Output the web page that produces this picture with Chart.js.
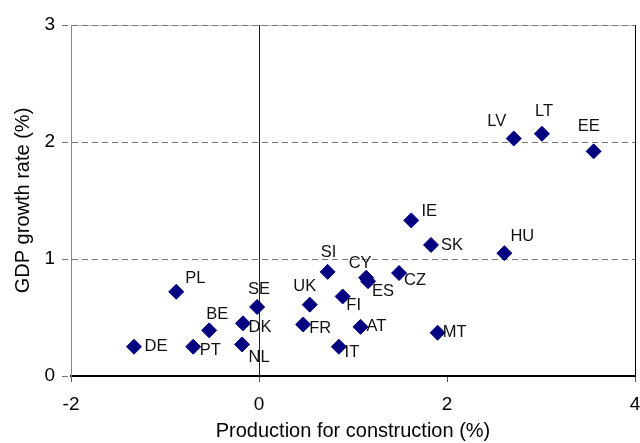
<!DOCTYPE html>
<html>
<head>
<meta charset="utf-8">
<script src="https://cdn.jsdelivr.net/npm/chart.js@4/dist/chart.umd.min.js"></script>
<style>
  html, body { margin: 0; padding: 0; background: #fff; overflow: hidden; }
  canvas { display: block; }
</style>
</head>
<body>
<canvas id="chart" width="640" height="443"></canvas>
<script>
const countries = ['DE', 'PL', 'BE', 'PT', 'DK', 'NL', 'SE', 'UK', 'FR', 'SI', 'FI', 'IT',
                   'CY', 'ES', 'CZ', 'AT', 'MT', 'IE', 'SK', 'HU', 'LV', 'LT', 'EE'];
const construction = [-1.33, -0.88, -0.53, -0.70, -0.17, -0.18, -0.02, 0.54, 0.47, 0.73, 0.89, 0.85,
                      1.14, 1.16, 1.49, 1.08, 1.90, 1.62, 1.83, 2.61, 2.71, 3.01, 3.56];
const gdpGrowth = [0.25, 0.72, 0.39, 0.25, 0.45, 0.27, 0.59, 0.61, 0.44, 0.89, 0.68, 0.25,
                   0.84, 0.81, 0.88, 0.42, 0.37, 1.33, 1.12, 1.05, 2.03, 2.07, 1.92];
const xTicks = [-2, 0, 2, 4];
const yTicks = [0, 1, 2, 3];

// where each country label sits relative to its marker (px)
const labelOffsets = {
    DE: [22, 0], PL: [19, -13], BE: [8, -16], PT: [17, 4], DK: [17, 4], NL: [17, 13],
    SE: [2, -18], UK: [-5, -18], FR: [17, 4], SI: [1, -19], FI: [11, 9], IT: [13, 6],
    CY: [-6, -14], ES: [15, 10], CZ: [16, 7], AT: [16, 0], MT: [17, 0], IE: [18, -9],
    SK: [21, 0], HU: [18, -17], LV: [-17, -17], LT: [2, -22], EE: [-5, -25]
};

const FONT = "'Liberation Sans', Arial, sans-serif";

const pointLabels = {
    id: 'pointLabels',
    afterDatasetsDraw(chart) {
        const ctx = chart.ctx;
        const meta = chart.getDatasetMeta(0);
        ctx.save();
        ctx.font = '16.5px ' + FONT;
        ctx.fillStyle = '#111';
        ctx.textAlign = 'center';
        ctx.textBaseline = 'middle';
        meta.data.forEach((pt, i) => {
            const off = labelOffsets[countries[i]] || [15, 0];
            ctx.fillText(countries[i], pt.x + off[0], pt.y + off[1]);
        });
        ctx.restore();
    }
};

const frame = {
    id: 'frame',
    beforeDraw(chart) {
        // faint solid line under the dashed top gridline
        const { ctx, chartArea } = chart;
        ctx.save();
        ctx.strokeStyle = '#bbb';
        ctx.lineWidth = 1;
        ctx.beginPath();
        ctx.moveTo(chartArea.left, chartArea.top + 0.5);
        ctx.lineTo(chartArea.right, chartArea.top + 0.5);
        ctx.stroke();
        ctx.restore();
    },
    beforeDatasetsDraw(chart) {
        const { ctx, chartArea } = chart;
        ctx.save();
        ctx.lineWidth = 1;
        ctx.strokeStyle = '#000';
        ctx.beginPath();
        ctx.moveTo(chartArea.right + 0.5, chartArea.top);
        ctx.lineTo(chartArea.right + 0.5, chartArea.bottom);
        ctx.stroke();
        ctx.restore();
    }
};

new Chart(document.getElementById('chart'), {
    type: 'scatter',
    data: {
        datasets: [{
            data: countries.map((c, i) => ({ x: construction[i], y: gdpGrowth[i] })),
            backgroundColor: '#000080',
            borderColor: '#000080',
            pointStyle: 'rectRot',
            pointRadius: 7.5,
            pointHoverRadius: 7.5
        }]
    },
    options: {
        responsive: false,
        animation: false,
        layout: { autoPadding: false, padding: { top: 25, right: 5, left: 0, bottom: 0 } },
        plugins: { legend: { display: false }, tooltip: { enabled: false } },
        scales: {
            x: {
                type: 'linear',
                min: -2, max: 4,
                afterBuildTicks: s => { s.ticks = xTicks.map(v => ({ value: v })); },
                afterFit: s => { s.height = 67; s.paddingRight = 0; s.paddingLeft = 0; },
                border: { color: '#000', width: 2 },
                grid: {
                    color: c => c.tick && c.tick.value === 0 ? '#222' : 'rgba(0,0,0,0)',
                    tickColor: '#555',
                    tickLength: 6,
                    lineWidth: 1
                },
                ticks: { color: '#000', font: { family: FONT, size: 19 }, padding: 11, maxRotation: 0 },
                title: {
                    display: true,
                    text: 'Production for construction (%)',
                    color: '#000',
                    font: { family: FONT, size: 20 },
                    padding: { top: 0, bottom: 0 }
                }
            },
            y: {
                type: 'linear',
                min: 0, max: 3,
                afterBuildTicks: s => { s.ticks = yTicks.map(v => ({ value: v })); },
                afterFit: s => { s.width = 71; },
                border: { color: '#888', width: 1, dash: [6, 4] },
                grid: {
                    color: c => c.tick && c.tick.value === 0 ? 'rgba(0,0,0,0)' : '#777',
                    tickColor: '#777',
                    tickBorderDash: [6, 4],
                    tickLength: 9,
                    lineWidth: 1
                },
                ticks: { color: '#000', font: { family: FONT, size: 19 }, padding: 7 },
                title: {
                    display: true,
                    text: 'GDP growth rate (%)',
                    color: '#000',
                    font: { family: FONT, size: 20 },
                    padding: { top: 11, bottom: 0 }
                }
            }
        }
    },
    plugins: [frame, pointLabels]
});
</script>
</body>
</html>
